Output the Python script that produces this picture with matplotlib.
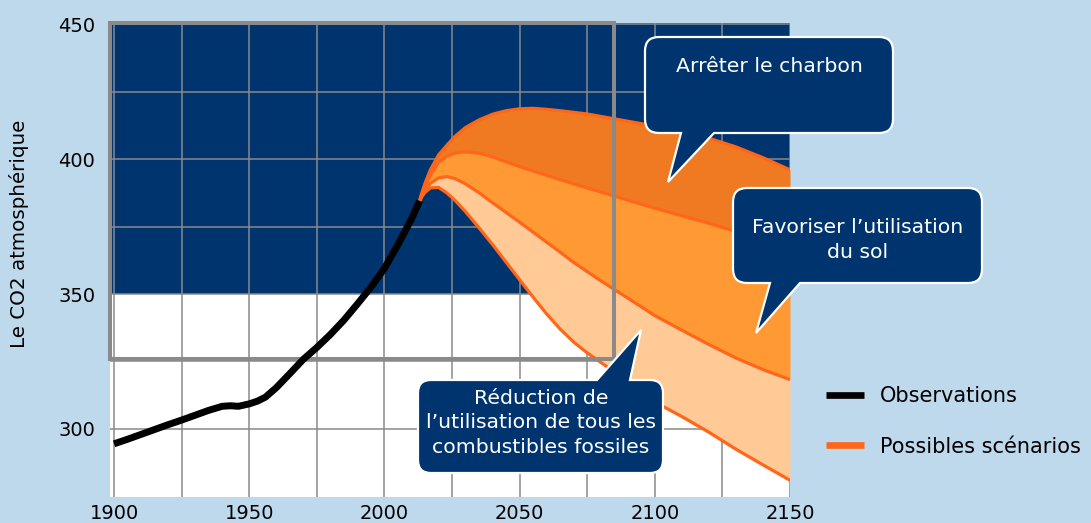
import matplotlib
matplotlib.use("Agg")
import matplotlib.pyplot as plt
from matplotlib.path import Path
from matplotlib.patches import PathPatch, Rectangle
from matplotlib.transforms import Affine2D

# ---------------- data ----------------
obs_years = [1900, 1905, 1910, 1915, 1920, 1925, 1930, 1935, 1940, 1943, 1946, 1950,
             1953, 1956, 1960, 1965, 1970, 1975, 1980, 1985, 1990, 1995, 2000, 2005,
             2010, 2013]
obs_co2 = [294.5, 296.2, 298.0, 299.8, 301.6, 303.3, 305.1, 306.9, 308.4, 308.6, 308.4,
           309.3, 310.3, 311.8, 315.3, 320.5, 325.8, 330.2, 335.0, 340.3, 346.3, 352.5,
           359.5, 368.3, 377.8, 384.5]

scen_years = [2013, 2014, 2015, 2017, 2020, 2023, 2026, 2030, 2035, 2040, 2045, 2050,
              2055, 2060, 2065, 2070, 2075, 2080, 2090, 2100, 2110, 2120, 2130, 2140, 2150]
scen_high = [384.5, 388.0, 391.0, 396.0, 401.5, 405.0, 408.3, 411.7, 414.5, 416.6, 417.9,
             418.6, 418.8, 418.4, 417.9, 417.3, 416.7, 415.8, 414.0, 412.2, 410.0, 407.7,
             404.5, 400.5, 396.0]
scen_coal = [384.5, 387.5, 390.0, 394.0, 398.8, 401.0, 402.2, 402.7, 402.2, 400.8, 399.0,
             397.2, 395.6, 394.0, 392.4, 390.8, 389.3, 387.8, 384.8, 381.8, 379.0, 376.2,
             373.2, 370.2, 367.0]
scen_land = [384.5, 386.5, 388.3, 391.0, 393.0, 393.5, 392.8, 390.8, 387.5, 383.8, 380.2,
             376.6, 372.9, 369.2, 365.5, 361.7, 358.3, 354.9, 348.5, 342.0, 336.6, 331.3,
             326.3, 322.0, 318.3]
scen_fossil = [384.5, 386.3, 387.6, 389.3, 389.5, 387.5, 384.8, 380.5, 374.5, 368.3, 361.8,
               355.3, 348.8, 342.6, 337.0, 332.2, 328.2, 324.7, 317.5, 310.0, 304.6, 298.8,
               292.5, 286.7, 281.0]

x_ticks = [1900, 1950, 2000, 2050, 2100, 2150]
y_ticks = [300, 350, 400, 450]
y_label = "Le CO2 atmosphérique"
legend_labels = ["Observations", "Possibles scénarios"]
bubble_texts = ["Arrêter le charbon",
                "Favoriser l\u2019utilisation\ndu sol",
                "Réduction de\nl\u2019utilisation de tous les\ncombustibles fossiles"]

# ---------------- style ----------------
W, H = 1091, 523
BG = "#bed8ec"
NAVY = "#00346e"
GRID = "#8a8a8a"
ORANGE_LINE = "#ff6619"
FILL_DARK = "#f07a22"
FILL_MED = "#ff9933"
FILL_LIGHT = "#ffca95"

plt.rcParams['font.family'] = ['DejaVu Sans']

fig = plt.figure(figsize=(W / 100, H / 100), dpi=100, facecolor=BG)
ax = fig.add_axes([110 / W, 1 - 497 / H, 680 / W, 474 / H])
ax.set_facecolor("white")
ax.set_xlim(1898.5, 2150)
ax.set_ylim(274.8, 450.4)
for s in ax.spines.values():
    s.set_visible(False)

ax.axhspan(350, 450.4, color=NAVY, zorder=0.5, lw=0)

ax.set_axisbelow('line')
ax.set_xticks(x_ticks)
ax.set_yticks(y_ticks)
ax.set_xticks([1925, 1975, 2025, 2075, 2125], minor=True)
ax.set_yticks([325, 375, 425], minor=True)
ax.grid(True, which='both', color=GRID, lw=1.1)
ax.tick_params(which='both', length=0)
ax.tick_params(axis='x', pad=5, labelsize=14)
ax.tick_params(axis='y', pad=10.5, labelsize=14)

ax.fill_between(scen_years, scen_coal, scen_high, color=FILL_DARK, lw=0, zorder=2)
ax.fill_between(scen_years, scen_land, scen_coal, color=FILL_MED, lw=0, zorder=2)
ax.fill_between(scen_years, scen_fossil, scen_land, color=FILL_LIGHT, lw=0, zorder=2)
scen_line = None
for ys in (scen_high, scen_coal, scen_land, scen_fossil):
    ln, = ax.plot(scen_years, ys, color=ORANGE_LINE, lw=2.3, zorder=2.5,
                  solid_capstyle='butt', solid_joinstyle='round')
    scen_line = scen_line or ln

ax.add_patch(Rectangle((1898.5, 326), 2085 - 1898.5, 450.4 - 326, fill=False,
                       edgecolor=GRID, lw=2.9, zorder=3, clip_on=False))

obs_line, = ax.plot(obs_years, obs_co2, color="black", lw=5, zorder=4,
                    solid_capstyle='butt', solid_joinstyle='round')

ax.set_ylabel(y_label, fontsize=14.3, va='center')
ax.yaxis.set_label_coords(-0.134, 0.555)

leg = ax.legend([obs_line, scen_line], legend_labels, loc='upper left',
                bbox_to_anchor=(826 / W, 1 - 386 / H), bbox_transform=fig.transFigure,
                frameon=False, fontsize=15, handlelength=1.83, handletextpad=0.75,
                labelspacing=1.47, borderpad=0, borderaxespad=0)
for l in leg.get_lines():
    l.set_linewidth(4.8)
    l.set_solid_capstyle('butt')

# ---------------- speech bubbles (pixel coords, y down) ----------------
pix = Affine2D().scale(1 / W, -1 / H).translate(0, 1) + fig.transFigure


def bubble(x0, y0, x1, y1, r, side, bx0, bx1, tip):
    v, c = [], []

    def add(pt, code):
        v.append(pt)
        c.append(code)
    add((x0 + r, y0), Path.MOVETO)
    if side == 'top':
        add((bx0, y0), Path.LINETO)
        add(tip, Path.LINETO)
        add((bx1, y0), Path.LINETO)
    add((x1 - r, y0), Path.LINETO)
    add((x1, y0), Path.CURVE3)
    add((x1, y0 + r), Path.CURVE3)
    add((x1, y1 - r), Path.LINETO)
    add((x1, y1), Path.CURVE3)
    add((x1 - r, y1), Path.CURVE3)
    if side == 'bottom':
        add((bx1, y1), Path.LINETO)
        add(tip, Path.LINETO)
        add((bx0, y1), Path.LINETO)
    add((x0 + r, y1), Path.LINETO)
    add((x0, y1), Path.CURVE3)
    add((x0, y1 - r), Path.CURVE3)
    add((x0, y0 + r), Path.LINETO)
    add((x0, y0), Path.CURVE3)
    add((x0 + r, y0), Path.CURVE3)
    add((x0 + r, y0), Path.CLOSEPOLY)
    p = PathPatch(Path(v, c), transform=pix, facecolor=NAVY, edgecolor="white",
                  lw=1.6, zorder=10, joinstyle='miter')
    fig.add_artist(p)


bubble(645, 37, 893, 133, 14, 'bottom', 681, 714, (668, 182))
bubble(733, 188, 982, 283, 14, 'bottom', 770, 800, (756, 333))
bubble(418, 380, 663, 473, 13, 'top', 597, 630, (641, 330))

fig.text(769 / W, 1 - 66 / H, bubble_texts[0], color="white", fontsize=14.7,
         ha='center', va='center', zorder=11)
fig.text(858 / W, 1 - 240 / H, bubble_texts[1], color="white", fontsize=14.7,
         ha='center', va='center', linespacing=1.36, zorder=11)
fig.text(541 / W, 1 - 423 / H, bubble_texts[2], color="white", fontsize=14.7,
         ha='center', va='center', linespacing=1.36, zorder=11)

fig.savefig("out.png", dpi=100, facecolor=BG)
